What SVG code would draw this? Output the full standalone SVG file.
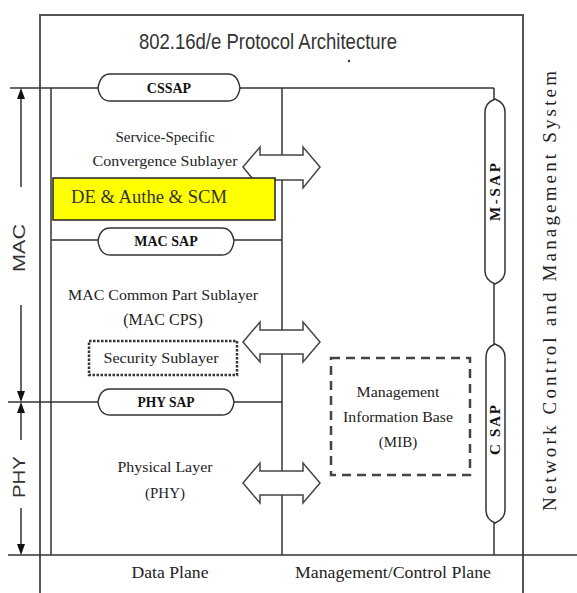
<svg xmlns="http://www.w3.org/2000/svg" width="577" height="593" viewBox="0 0 577 593">
<defs>
<style>
.ln{stroke:#333;stroke-width:1.5;fill:none}
.frame{stroke:#555;stroke-width:2;fill:none}
.cap{fill:#fff;stroke:#333;stroke-width:1.5}
.arw{fill:#fff;stroke:#444;stroke-width:1.5}
.head{fill:#111;stroke:none}
.t{font-family:"Liberation Serif","Times New Roman",serif;fill:#222;font-size:15px;text-anchor:middle}
.b{font-family:"Liberation Serif","Times New Roman",serif;fill:#111;font-size:14px;font-weight:bold;text-anchor:middle}
.s{font-family:"Liberation Sans",Arial,sans-serif;fill:#333;text-anchor:middle}
</style>
</defs>
<rect x="0" y="0" width="577" height="593" fill="#fff"/>
<g id="connectors">
<path class="frame" d="M40,593 V15 H523 V593"/>
<line class="ln" x1="51" y1="88" x2="51" y2="555"/>
<line class="ln" x1="282" y1="88" x2="282" y2="555"/>
<line class="ln" x1="10" y1="88" x2="494" y2="88"/>
<line class="ln" x1="494" y1="88" x2="494" y2="100"/>
<line class="ln" x1="494" y1="283" x2="494" y2="345"/>
<line class="ln" x1="494" y1="522" x2="494" y2="555"/>
<line class="ln" x1="51" y1="240" x2="282" y2="240"/>
<line class="ln" x1="8" y1="402" x2="282" y2="402"/>
<line class="ln" x1="8" y1="555" x2="577" y2="555"/>
<line class="ln" x1="21" y1="92" x2="21" y2="187"/>
<line class="ln" x1="21" y1="305" x2="21" y2="398"/>
<line class="ln" x1="21" y1="406" x2="21" y2="440"/>
<line class="ln" x1="21" y1="508" x2="21" y2="551"/>
<polygon class="head" points="21,88 17,99 25,99"/>
<polygon class="head" points="21,402 17,391 25,391"/>
<polygon class="head" points="21,402 17,413 25,413"/>
<polygon class="head" points="21,555 17,544 25,544"/>
<path class="arw" d="M243,167 L260,147 V155 H303 V147 L320,167 L303,188 V180 H260 V188 Z"/>
<path class="arw" d="M243,342 L260,322 V330 H303 V322 L320,342 L303,362 V354 H260 V362 Z"/>
<path class="arw" d="M243,483 L260,463 V471 H303 V463 L320,483 L303,503 V495 H260 V503 Z"/>
</g>
<g id="title">
<text class="s" x="268" y="49" style="font-size:22px" textLength="258" lengthAdjust="spacingAndGlyphs">802.16d/e Protocol Architecture</text>
<circle cx="349" cy="61" r="1.2" fill="#333"/>
</g>
<g id="cssap">
<path class="cap" d="M110,74 H228 C236,74 239,82 240,88 C239,94 236,101 228,101 H110 C102,101 99,94 98,88 C99,82 102,74 110,74 Z"/>
<text class="b" x="169" y="93">CSSAP</text>
</g>
<g id="cs-sublayer">
<text class="t" x="165" y="142">Service-Specific</text>
<text class="t" x="165" y="166" textLength="145" lengthAdjust="spacingAndGlyphs">Convergence Sublayer</text>
</g>
<g id="de-authe-scm">
<rect x="53" y="178" width="222" height="42" fill="#ffff00" stroke="#222" stroke-width="1.5"/>
<text x="71" y="203" font-family="'Liberation Serif','Times New Roman',serif" font-size="18" fill="#333" textLength="156" lengthAdjust="spacingAndGlyphs">DE &amp; Authe &amp; SCM</text>
</g>
<g id="macsap">
<path class="cap" d="M110,228 H222 C230,228 233,235 234,241 C233,248 230,255 222,255 H110 C102,255 99,248 98,241 C99,235 102,228 110,228 Z"/>
<text class="b" x="166" y="246">MAC SAP</text>
</g>
<g id="mac-cps">
<text class="t" x="163" y="300" textLength="190" lengthAdjust="spacingAndGlyphs">MAC Common Part Sublayer</text>
<text class="t" x="163" y="325" style="font-size:16px">(MAC CPS)</text>
</g>
<g id="security-sublayer">
<rect x="89" y="341" width="148" height="34" fill="#fff" stroke="#333" stroke-width="2.5" stroke-dasharray="2.5,1.5"/>
<text class="t" x="161" y="363" textLength="115" lengthAdjust="spacingAndGlyphs">Security Sublayer</text>
</g>
<g id="physap">
<path class="cap" d="M110,389 H222 C230,389 233,396 234,402 C233,409 230,415 222,415 H110 C102,415 99,409 98,402 C99,396 102,389 110,389 Z"/>
<text class="b" x="166" y="407" textLength="57" lengthAdjust="spacingAndGlyphs">PHY SAP</text>
</g>
<g id="phy-layer">
<text class="t" x="165" y="472" textLength="95" lengthAdjust="spacingAndGlyphs">Physical Layer</text>
<text class="t" x="165" y="498">(PHY)</text>
</g>
<g id="mib">
<rect x="331" y="358" width="139" height="117" fill="none" stroke="#444" stroke-width="2.5" stroke-dasharray="9,6"/>
<text class="t" x="398" y="397" textLength="83" lengthAdjust="spacingAndGlyphs">Management</text>
<text class="t" x="398" y="422" textLength="110" lengthAdjust="spacingAndGlyphs">Information Base</text>
<text class="t" x="398" y="447">(MIB)</text>
</g>
<g id="msap">
<path class="cap" d="M485,112 C485,104 490,101 495,99 C500,101 505,104 505,112 V271 C505,279 500,282 495,284 C490,282 485,279 485,271 Z"/>
<text class="b" style="font-size:15px" transform="translate(500,192) rotate(-90)" textLength="58" lengthAdjust="spacing">M-SAP</text>
</g>
<g id="csap">
<path class="cap" d="M486,357 C486,349 490,346 495,344 C500,346 505,349 505,357 V510 C505,518 500,521 495,523 C490,521 486,518 486,510 Z"/>
<text class="b" style="font-size:15px" transform="translate(500,430) rotate(-90)" textLength="50" lengthAdjust="spacing">C SAP</text>
</g>
<g id="nms">
<text class="t" style="font-size:19px" transform="translate(556,291) rotate(-90)" textLength="440" lengthAdjust="spacing">Network Control and Management System</text>
</g>
<g id="mac-label">
<text class="s" style="font-size:17px" transform="translate(25,248) rotate(-90)" textLength="48" lengthAdjust="spacingAndGlyphs">MAC</text>
</g>
<g id="phy-label">
<text class="s" style="font-size:17px" transform="translate(25,477) rotate(-90)" textLength="42" lengthAdjust="spacingAndGlyphs">PHY</text>
</g>
<g id="planes">
<text class="t" x="170" y="578" style="font-size:17px" textLength="77" lengthAdjust="spacingAndGlyphs">Data Plane</text>
<text class="t" x="393" y="578" style="font-size:17px" textLength="196" lengthAdjust="spacingAndGlyphs">Management/Control Plane</text>
</g>
</svg>
